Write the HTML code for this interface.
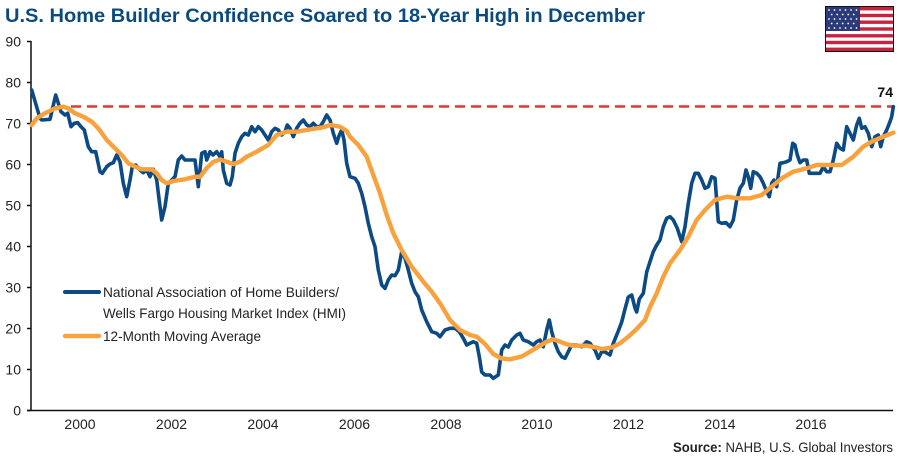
<!DOCTYPE html>
<html>
<head>
<meta charset="utf-8">
<style>
  html,body{margin:0;padding:0;background:#fff;}
  body{width:900px;height:462px;overflow:hidden;}
  svg{display:block;font-family:"Liberation Sans",sans-serif;}
</style>
</head>
<body>
<svg width="900" height="462" viewBox="0 0 900 462" xmlns="http://www.w3.org/2000/svg">
  <rect width="900" height="462" fill="#fff"/>
  <!-- Title -->
  <text x="5" y="22" font-size="19.5" font-weight="bold" fill="#0b4a7f" textLength="640" lengthAdjust="spacingAndGlyphs">U.S. Home Builder Confidence Soared to 18-Year High in December</text>

  <!-- Flag -->
  <g transform="translate(825,6)">
    <rect x="0" y="0" width="69" height="46" fill="#111"/>
    <rect x="1" y="1" width="67" height="44" fill="#fff"/>
    <g fill="#c8223f">
      <rect x="1" y="1" width="67" height="3.4"/>
      <rect x="1" y="7.8" width="67" height="3.4"/>
      <rect x="1" y="14.5" width="67" height="3.4"/>
      <rect x="1" y="21.3" width="67" height="3.4"/>
      <rect x="1" y="28.1" width="67" height="3.4"/>
      <rect x="1" y="34.8" width="67" height="3.4"/>
      <rect x="1" y="41.6" width="67" height="3.4"/>
    </g>
    <rect x="1" y="1" width="34" height="24" fill="#2b3a78"/>
    <g fill="#fff">
      <circle cx="4" cy="4" r="0.9"/><circle cx="9.5" cy="4" r="0.9"/><circle cx="15" cy="4" r="0.9"/><circle cx="20.5" cy="4" r="0.9"/><circle cx="26" cy="4" r="0.9"/><circle cx="31.5" cy="4" r="0.9"/>
      <circle cx="6.7" cy="8.5" r="0.9"/><circle cx="12.2" cy="8.5" r="0.9"/><circle cx="17.7" cy="8.5" r="0.9"/><circle cx="23.2" cy="8.5" r="0.9"/><circle cx="28.7" cy="8.5" r="0.9"/>
      <circle cx="4" cy="13" r="0.9"/><circle cx="9.5" cy="13" r="0.9"/><circle cx="15" cy="13" r="0.9"/><circle cx="20.5" cy="13" r="0.9"/><circle cx="26" cy="13" r="0.9"/><circle cx="31.5" cy="13" r="0.9"/>
      <circle cx="6.7" cy="17.5" r="0.9"/><circle cx="12.2" cy="17.5" r="0.9"/><circle cx="17.7" cy="17.5" r="0.9"/><circle cx="23.2" cy="17.5" r="0.9"/><circle cx="28.7" cy="17.5" r="0.9"/>
      <circle cx="4" cy="22" r="0.9"/><circle cx="9.5" cy="22" r="0.9"/><circle cx="15" cy="22" r="0.9"/><circle cx="20.5" cy="22" r="0.9"/><circle cx="26" cy="22" r="0.9"/><circle cx="31.5" cy="22" r="0.9"/>
    </g>
  </g>

  <!-- Y axis labels -->
  <g font-size="14" fill="#222" text-anchor="end">
    <text x="21" y="415.5">0</text>
    <text x="21" y="374.5">10</text>
    <text x="21" y="333.5">20</text>
    <text x="21" y="292.5">30</text>
    <text x="21" y="251.5">40</text>
    <text x="21" y="210.5">50</text>
    <text x="21" y="169.5">60</text>
    <text x="21" y="128.5">70</text>
    <text x="21" y="87.5">80</text>
    <text x="21" y="46.5">90</text>
  </g>
  <!-- Y ticks -->
  <g stroke="#111" stroke-width="1.5">
    <line x1="27" y1="410.5" x2="31" y2="410.5"/>
    <line x1="27" y1="369.5" x2="31" y2="369.5"/>
    <line x1="27" y1="328.5" x2="31" y2="328.5"/>
    <line x1="27" y1="287.5" x2="31" y2="287.5"/>
    <line x1="27" y1="246.5" x2="31" y2="246.5"/>
    <line x1="27" y1="205.5" x2="31" y2="205.5"/>
    <line x1="27" y1="164.5" x2="31" y2="164.5"/>
    <line x1="27" y1="123.5" x2="31" y2="123.5"/>
    <line x1="27" y1="82.5" x2="31" y2="82.5"/>
    <line x1="27" y1="41.5" x2="31" y2="41.5"/>
    <line x1="31" y1="41" x2="31" y2="411"/>
    <line x1="27" y1="410.5" x2="893" y2="410.5"/>
  </g>

  <!-- X labels -->
  <g font-size="14" fill="#222" text-anchor="middle">
    <text x="80" y="429">2000</text>
    <text x="171.5" y="429">2002</text>
    <text x="263" y="429">2004</text>
    <text x="354.5" y="429">2006</text>
    <text x="446" y="429">2008</text>
    <text x="537" y="429">2010</text>
    <text x="628.5" y="429">2012</text>
    <text x="720" y="429">2014</text>
    <text x="811" y="429">2016</text>
  </g>

  <!-- Red dashed line at 74 -->
  <line x1="71" y1="106.5" x2="893" y2="106.5" stroke="#e8372c" stroke-width="2.5" stroke-dasharray="10,6"/>
  <text x="893" y="97" font-size="14" font-weight="bold" fill="#111" text-anchor="end">74</text>

  <!-- HMI series -->
  <polyline fill="none" stroke="#0b4a84" stroke-width="3.6" stroke-linejoin="round" stroke-linecap="round"
    points="31.7,90 40,118.3 41.7,120 50,119.3 55.7,95 61,111.7 65,115 67.7,113.3 71,126.7 74.3,123.3 77.7,122.7 81,126.7 84.3,130 88.3,146.7 91.7,151.7 95.7,151.7 100,171.7 102.3,173.3 106.7,166.7 110,164 113.3,162.7 116.7,155 120,161.7 123.3,183.3 126.7,196.7 130,180 132.3,166.7 135.7,165 140,170 143.3,172.7 146.7,170 150,176.7 153.3,169.3 156.7,180 160,206.7 161.7,220 165,206.7 168.3,183.3 171.7,180 175,176.7 178.3,160 181.7,156 185,160 195,160 198.3,186.7 201.7,153.3 205,151.7 206.7,160 210,151.7 213,155 216.7,151.7 220,156.7 221.7,151.7 223.3,170 226.7,183.3 230,185 232.3,176.7 235,153.3 238.3,143.3 241.7,136.7 245,133.3 248.3,135 251.7,126.7 255,131.7 258.3,126.7 261.7,130 265,135 268.3,140 271.7,131.7 275,128.3 278.3,130 281.7,135 285,131.7 287.3,125 290,128.3 293.3,136.7 296.7,128.3 300,123.3 303.3,120 306.7,125 310,126.7 313.3,123.3 316.7,126.7 320,126.7 323.3,121.7 326.7,115 330,120 333.3,133.3 336.7,143.3 339.3,135 341.7,130 344,140 346.7,163.3 350,176.7 355,178.3 358.3,183.3 361.7,193.3 365,206.7 368.3,223.3 371.7,236.7 375,246.7 378.3,270 381.7,285 385,288.3 388.3,280 391.7,275 395,275.7 398.3,270 401.7,251.7 405,258.3 408.3,270 411.7,283.3 415,291.7 418.3,296.7 421.7,310 426.7,321.7 431.7,331.7 436.7,333.3 440,336.7 445,330 450,328.3 455,328.3 459.3,331.7 463.3,338.3 466.7,345 470,343.3 473.3,341.7 476.7,343.3 479.3,356.7 481.7,372 485,375 490,375 493.3,378.3 498.3,375 501.7,350 505,345 508.3,347 511.7,340 516.7,335 520,333.3 523.3,340 528.3,341.7 533.3,345 536.7,341.7 540,340 543.3,346.7 546.7,330 549.3,320 551.7,331.7 555,343.3 558.3,351.7 561.7,356.7 565,358.3 568.3,351.7 571.7,345 576.7,345 581.7,346.7 586.7,341.7 590,343.3 595,350 598.3,358.3 601.7,351.7 605,352 610,355 613.3,343.3 618.3,331 621.7,322 625,309 628.3,297 631.7,295 635,308 636.7,312 639.3,299 643.3,293.3 646.7,272 650,261.7 653.3,251.7 656.7,245 660,240 663.3,226.7 666.7,218.3 670,216.7 673.3,220 677.3,228.3 681.7,241.7 685,226.7 688.3,203.3 691.7,183.3 695,173.3 698.3,173.3 701.7,180 705,188.3 708.3,186.7 711.7,176.7 715,178.3 718.3,221.7 721.7,223.3 726,222.7 730,226.7 733.3,220 736.7,200 740,188.3 743.3,183.3 746,170 748.3,176.7 750.7,188.3 753.3,171.7 756.7,173.3 760,176.7 763.3,183.3 766.7,191.7 769.3,196.7 771.7,183.3 774,180 776.7,186.7 780,163.3 783.3,162.7 786.7,161.7 790,160 792.7,143.3 795,145 797.3,155 800,162.7 803.3,160 806.7,160 809.3,173.3 813.3,173.3 820,173.3 823.3,166.7 826.7,171.7 830,171.7 833.3,160 836.7,143.3 840,148.3 843.3,150 846.7,126.7 850,133.3 853.3,140 856.7,125 859.3,118.3 861.7,128.3 865,126.7 868.3,133.3 871.7,146.7 875,136.7 878.3,135 880.7,146.7 883.3,136.7 886.7,130 890,121.7 891.7,116.7 893.3,106.7"/>

  <!-- Moving average -->
  <polyline fill="none" stroke="#f9a13c" stroke-width="4.4" stroke-linejoin="round" stroke-linecap="round"
    points="31.7,125 36.7,118.3 45,113.3 55,108.3 63.3,106.7 68.3,108.3 75,113.3 83.3,116.7 91.7,121.7 98.3,128.3 106.7,140 115,148.3 121.7,155 128.3,163.3 135,166.7 141.7,169.3 151.7,169.3 156.7,173.3 161.7,180 166.7,183.3 173.3,181 185,179.3 195,176.7 200,177 206.7,168 213.3,162 220,159.5 226.7,161.7 233.3,164 240,161.7 246.7,156.7 256.7,151.7 268.3,145 276.7,135 286.7,131.7 296.7,131.7 306.7,130 316.7,128.3 323.3,127.3 330,125 340,126.7 346.7,131 350,136.7 358.3,145 366.7,156.7 373.3,175 380,193.3 386.7,215 393.3,233.3 401.7,250 411.7,266.7 423.3,281.7 431.7,291.7 440,303.3 450,320 460,330 470,335 476.7,336.7 485,344 493.3,354 501.7,358.5 510,359.3 521.7,356.5 530,351.7 538.3,346.7 546.7,341.7 553.3,339.3 560,341.7 566.7,344.3 573.3,345.7 586.7,345.7 595,347.3 601.7,349 611.7,347.5 620,343.3 628.3,336.7 636.7,329 645,320 650,307 656.7,293.3 663.3,276.7 670,263.3 680,250 688.3,236.7 696.7,220 705,210 715,200 726.7,196.7 738.3,198.3 750,198.3 761.7,195 771.7,186.7 781.7,178.3 793.3,171.7 806.7,168.3 816.7,165 830,165 841.7,165 853.3,156.7 863.3,146.7 871.7,141.7 883.3,136.7 893.3,132.7"/>

  <!-- Legend -->
  <line x1="65" y1="292" x2="99" y2="292" stroke="#0b4a84" stroke-width="4" stroke-linecap="round"/>
  <line x1="65" y1="336" x2="99" y2="336" stroke="#f9a13c" stroke-width="4.4" stroke-linecap="round"/>
  <g font-size="14" fill="#222">
    <text x="103" y="297" textLength="236" lengthAdjust="spacingAndGlyphs">National Association of Home Builders/</text>
    <text x="103" y="318" textLength="243" lengthAdjust="spacingAndGlyphs">Wells Fargo Housing Market Index (HMI)</text>
    <text x="103" y="341" textLength="158" lengthAdjust="spacingAndGlyphs">12-Month Moving Average</text>
  </g>

  <!-- Source -->
  <text x="893" y="452" font-size="14" fill="#222" text-anchor="end" textLength="220" lengthAdjust="spacingAndGlyphs"><tspan font-weight="bold">Source:</tspan> NAHB, U.S. Global Investors</text>
</svg>
</body>
</html>
